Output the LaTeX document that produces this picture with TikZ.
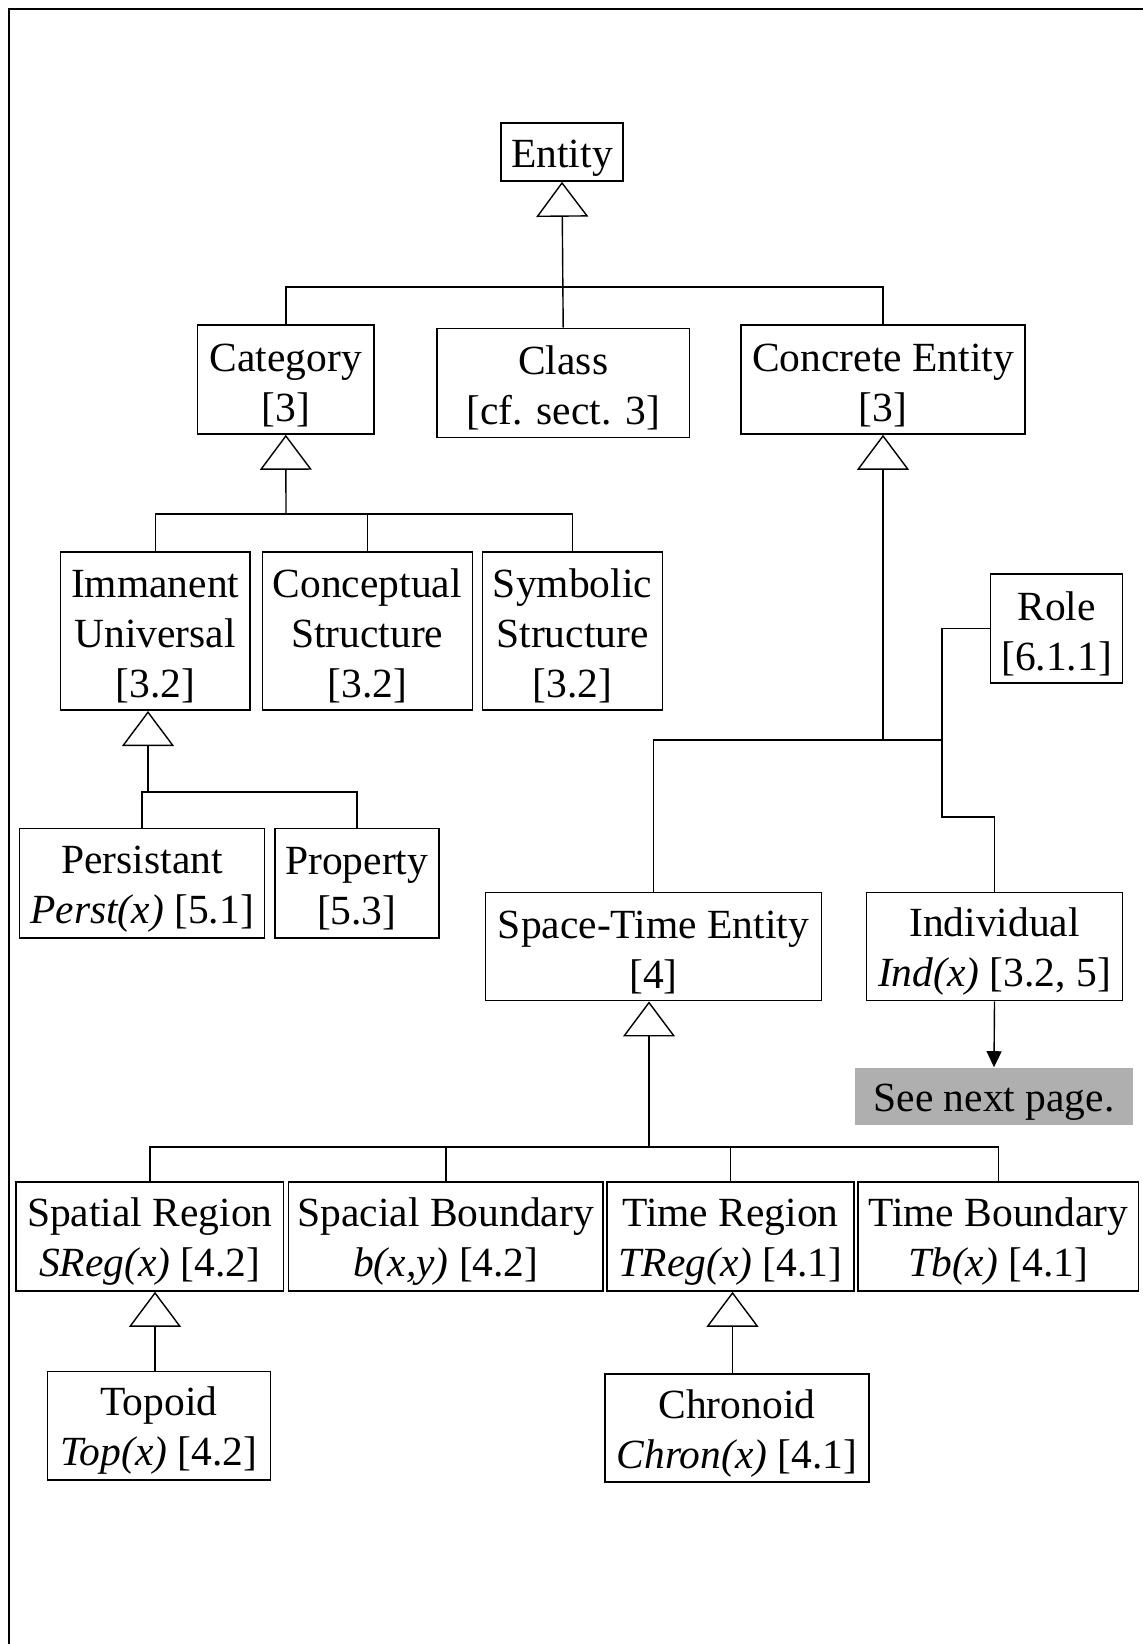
\documentclass[tikz,border=0pt]{standalone}
\usepackage{fontspec}
\setmainfont{Liberation Serif}
\usetikzlibrary{arrows.meta}
% fixed first-line height so every label sits at the same depth in its box
\newcommand\firstline{\rule{0pt}{39pt}}
\begin{document}
\begin{tikzpicture}[x=1pt,y=-1pt,
  box/.style={draw, line width=1.6pt, align=center, inner sep=0pt,
    font=\fontsize{41.5}{50}\selectfont},
  link/.style={line width=1.4pt},
  gen/.style={link, -{Triangle[open,length=35pt,width=52pt]}},
  nav/.style={link, -{Triangle[length=16pt,width=15pt]}}]
\useasboundingbox (0,0) rectangle (1143,1644);
% page frame (top and left edges)
\draw[line width=2pt] (9,1644) -- (9,9) -- (1143,9);

% top level
\node[box, minimum width=122pt, minimum height=58pt] (entity) at (562,152) {\firstline Entity};
\node[box, minimum width=176.5pt, minimum height=109pt] (cat) at (285.8,379.5) {\firstline Category\\{}[3]};
\node[box, minimum width=252.5pt, minimum height=109pt] (class) at (563.2,383) {\firstline Class\\{}[cf. sect. 3]};
\node[box, minimum width=284pt, minimum height=109pt] (conc) at (883,379.5) {\firstline Concrete Entity\\{}[3]};

% categories
\node[box, minimum width=189.5pt, minimum height=158.5pt] (iu) at (155.2,631) {\firstline Immanent\\Universal\\{}[3.2]};
\node[box, minimum width=210pt, minimum height=158.5pt] (cs) at (367.3,631) {\firstline Conceptual\\Structure\\{}[3.2]};
\node[box, minimum width=180pt, minimum height=158.5pt] (ss) at (572.5,631) {\firstline Symbolic\\Structure\\{}[3.2]};
\node[box, minimum width=245pt, minimum height=109.4pt] (pers) at (142.1,883) {\firstline Persistant\\\textit{Perst(x)} [5.1]};
\node[box, minimum width=164pt, minimum height=109.4pt] (prop) at (356.8,883) {\firstline Property\\{}[5.3]};

% concrete entities
\node[box, minimum width=132pt, minimum height=109pt] (role) at (1056.5,628.5) {\firstline Role\\{}[6.1.1]};
\node[box, minimum width=336pt, minimum height=108.3pt] (ste) at (653.4,946.5) {\firstline Space-Time Entity\\{}[4]};
\node[box, minimum width=255.8pt, minimum height=108.3pt] (ind) at (994.5,946.5) {\firstline Individual\\\textit{Ind(x)} [3.2, 5]};
\node[box, draw=none, fill={rgb,255:red,175;green,175;blue,175}, minimum width=278pt, minimum height=57pt] (next) at (994,1096.5) {\firstline See next page.};

% space-time entities
\node[box, minimum width=267.5pt, minimum height=109pt] (sr) at (149.8,1236.5) {\firstline Spatial Region\\\textit{SReg(x)} [4.2]};
\node[box, minimum width=314.4pt, minimum height=109pt] (sb) at (445.8,1236.5) {\firstline Spacial Boundary\\\textit{b(x,y)} [4.2]};
\node[box, minimum width=247.3pt, minimum height=109pt] (tr) at (730.4,1236.5) {\firstline Time Region\\\textit{TReg(x)} [4.1]};
\node[box, minimum width=280.5pt, minimum height=109pt] (tb) at (998.2,1236.5) {\firstline Time Boundary\\\textit{Tb(x)} [4.1]};
\node[box, minimum width=223pt, minimum height=108.6pt] (topo) at (158.9,1425.7) {\firstline Topoid\\\textit{Top(x)} [4.2]};
\node[box, minimum width=263.8pt, minimum height=108pt] (chron) at (736.9,1428) {\firstline Chronoid\\\textit{Chron(x)} [4.1]};

% junction points
\coordinate (b1) at (562,287);
\coordinate (b2) at (286,514);
\coordinate (b3) at (883,740);
\coordinate (j3) at (942,740);
\coordinate (k3) at (942,817);
\coordinate (b4) at (148,792);
\coordinate (b5) at (649,1147);
\coordinate (x6) at (155,0);
\coordinate (x7) at (732.5,0);

% Entity
\draw[gen] (class.north) -- (entity.south);
\draw[link] (cat.north) |- (b1) -| (conc.north);
% Category
\draw[gen] (b2) -- (cat.south);
\draw[link] (iu.north) |- (b2) -| (ss.north);
\draw[link] (cs.north) -- (cs.north |- b2);
% Concrete Entity
\draw[gen] (b3) -- (conc.south);
\draw[link] (ste.north) |- (j3);
\draw[link] (role.west) -| (k3) -| (ind.north);
% Immanent Universal
\draw[gen] (b4) -- (iu.south -| b4);
\draw[link] (pers.north) |- (b4) -| (prop.north);
% Space-Time Entity
\draw[gen] (b5) -- (ste.south -| b5);
\draw[link] (sr.north) |- (b5) -| (tb.north);
\draw[link] (sb.north) -- (sb.north |- b5);
\draw[link] (tr.north) -- (tr.north |- b5);
% regions
\draw[gen] (topo.north -| x6) -- (sr.south -| x6);
\draw[gen] (chron.north -| x7) -- (tr.south -| x7);
% continuation
\draw[nav] (ind.south) -- (next.north);
\end{tikzpicture}
\end{document}
